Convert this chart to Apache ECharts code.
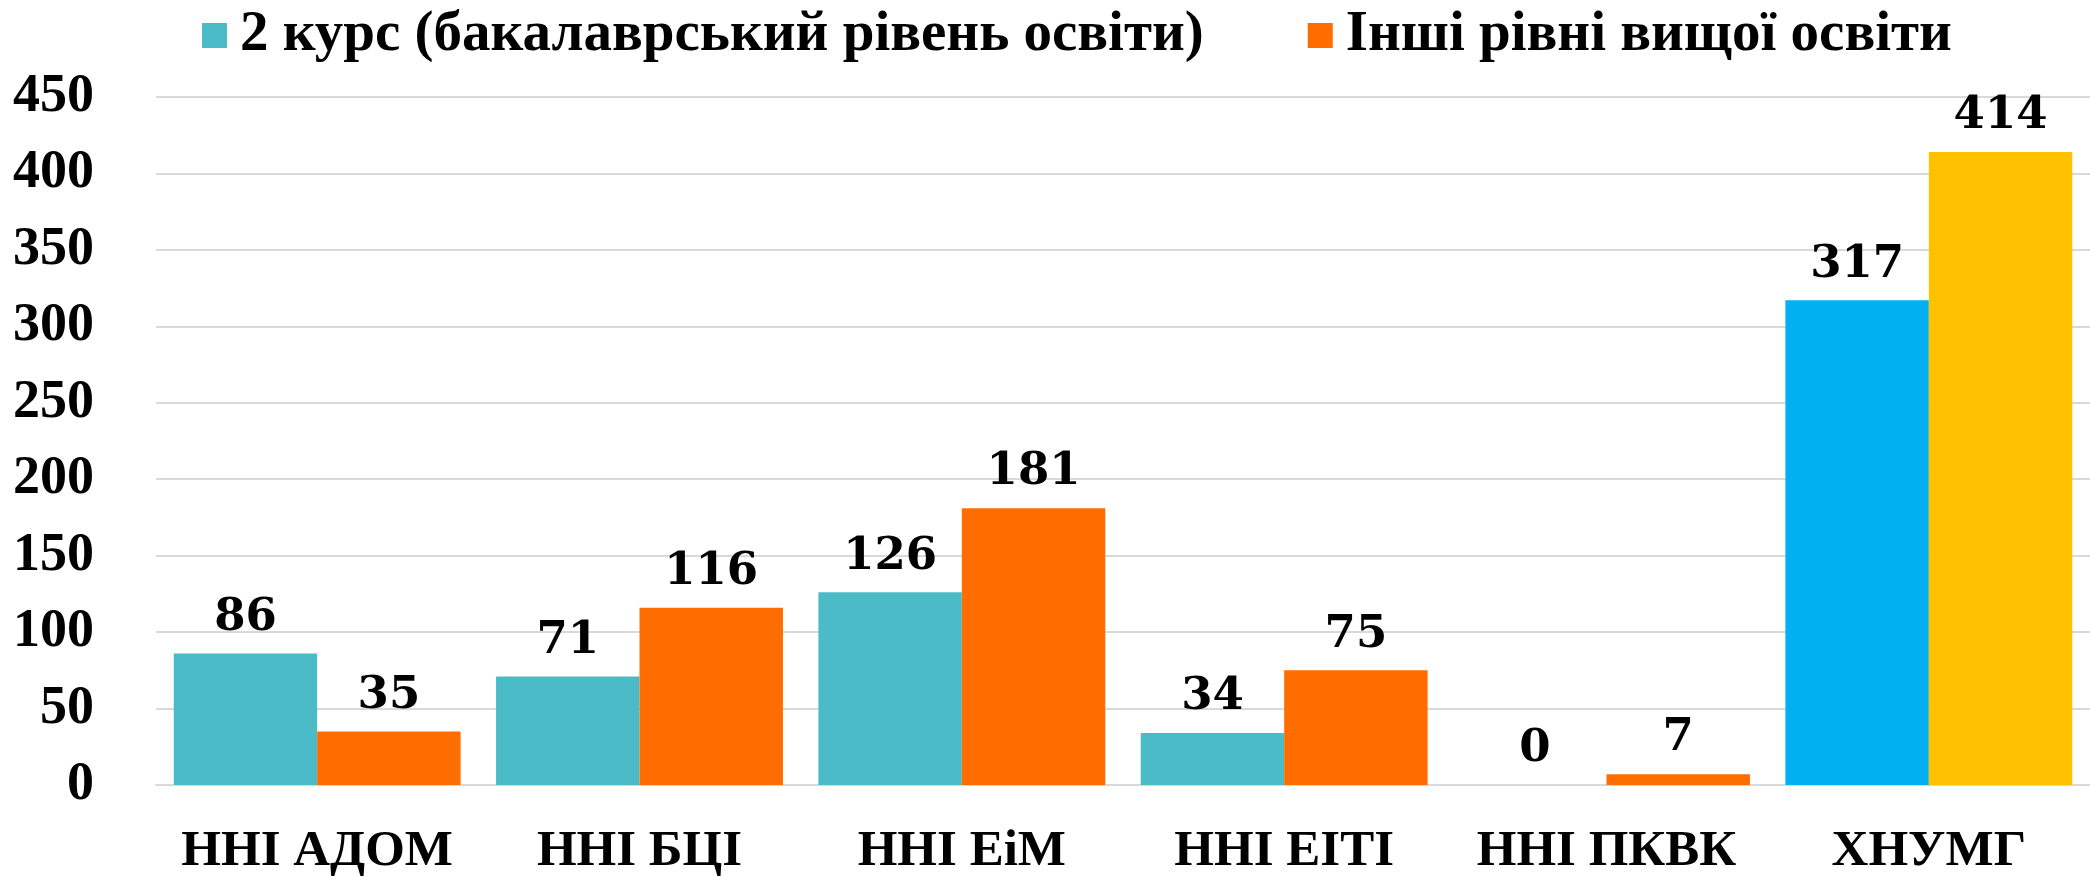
<!DOCTYPE html>
<html>
<head>
<meta charset="utf-8">
<script src="https://cdn.jsdelivr.net/npm/echarts@6/dist/echarts.min.js"></script>
<style>
  html, body { margin: 0; padding: 0; background: #fff; }
  #chart { width: 2090px; height: 877px; }
</style>
</head>
<body>
<div id="chart"></div>
<script>
const categories = ['ННІ АДОМ', 'ННІ БЦІ', 'ННІ ЕіМ', 'ННІ ЕІТІ', 'ННІ ПКВК', 'ХНУМГ']
const secondYear = [86, 71, 126, 34, 0, 317]
const otherLevels = [35, 116, 181, 75, 7, 414]
const seriesNames = ['2 курс (бакалаврський рівень освіти)', 'Інші рівні вищої освіти']

// colours: the university total (last bar pair) has its own colours
const teal = '#4BBCC7'
const orange = '#FF6D00'
const totalBlue = '#00B0F0'
const totalYellow = '#FFC000'

const axisFont = 'Liberation Serif'
const labelFont = 'DejaVu Serif'

const chart = echarts.init(document.getElementById('chart'))

function withTotalColor(values, color) {
  return values.map((v, i) => i === values.length - 1 ? { value: v, itemStyle: { color: color } } : v)
}

const barLabel = {
  show: true,
  position: 'top',
  distance: 13,
  fontFamily: labelFont,
  fontWeight: 'bold',
  fontSize: 45,
  color: '#000'
}

const option = {
  backgroundColor: '#fff',
  animation: false,
  legend: {
    data: seriesNames,
    left: 197,
    top: 2,
    itemWidth: 25,
    itemHeight: 25,
    itemGap: 104,
    icon: 'rect',
    textStyle: {
      fontFamily: axisFont,
      fontWeight: 'bold',
      fontSize: 57,
      color: '#000',
      padding: [0, 0, 0, 8]
    }
  },
  grid: {
    left: 156,
    right: -2,
    top: 97,
    bottom: 88,
    containLabel: false
  },
  xAxis: {
    type: 'category',
    data: categories,
    axisLine: { lineStyle: { color: '#d9d9d9', width: 2 } },
    axisTick: { show: false },
    axisLabel: {
      interval: 0,
      margin: 41,
      fontFamily: axisFont,
      fontWeight: 'bold',
      fontSize: 51,
      color: '#000'
    }
  },
  yAxis: {
    type: 'value',
    min: 0,
    max: 450,
    interval: 50,
    axisLine: { show: false },
    axisTick: { show: false },
    splitLine: { lineStyle: { color: '#d9d9d9', width: 2 } },
    axisLabel: {
      margin: 62,
      fontFamily: axisFont,
      fontWeight: 'bold',
      fontSize: 54,
      color: '#000'
    }
  },
  series: [
    {
      name: seriesNames[0],
      type: 'bar',
      data: withTotalColor(secondYear, totalBlue),
      itemStyle: { color: teal },
      barGap: '0%',
      barCategoryGap: '11%',
      label: barLabel
    },
    {
      name: seriesNames[1],
      type: 'bar',
      data: withTotalColor(otherLevels, totalYellow),
      itemStyle: { color: orange },
      barGap: '0%',
      barCategoryGap: '11%',
      label: barLabel
    }
  ]
}

chart.setOption(option)
</script>
</body>
</html>
